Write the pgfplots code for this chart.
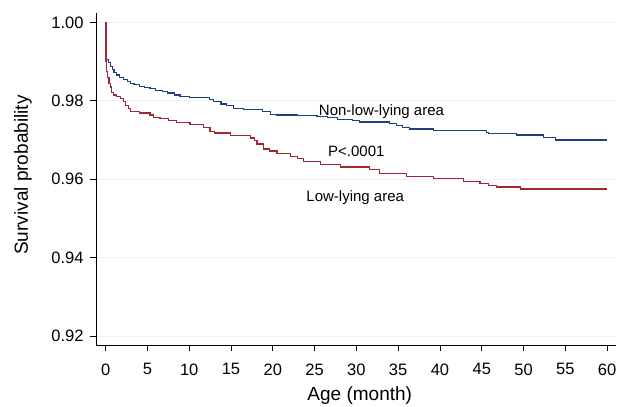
\documentclass[border=0pt]{standalone}
\usepackage{pgfplots}
\pgfplotsset{compat=1.18}
\usepackage{fontspec}
\setmainfont{Liberation Sans}

\definecolor{kmblue}{RGB}{32,64,122}
\definecolor{kmred}{RGB}{160,40,52}

\begin{document}
\begin{tikzpicture}
\begin{axis}[
    scale only axis,
    width=519.5pt, height=332pt,
    xmin=-1.15, xmax=61,
    ymin=0.9177, ymax=1.0024,
    axis x line*=bottom, axis y line*=left,
    axis line style={black, line width=0.9pt},
    xtick={0,5,...,60},
    ytick={0.92,0.94,0.96,0.98,1.00},
    yticklabel style={xshift=-3pt, /pgf/number format/.cd, fixed, fixed zerofill, precision=2},
    xticklabel style={yshift=-9pt},
    /pgf/number format/assume math mode=true,
    tick align=outside, major tick length=6pt,
    tick style={black, line width=0.9pt},
    ymajorgrids, grid style={black!6, line width=0.8pt},
    ticklabel style={font=\fontsize{16.5}{19}\selectfont},
    xlabel={Age (month)}, ylabel={Survival probability},
    label style={font=\fontsize{19}{22}\selectfont},
    xlabel style={at={(rel axis cs:0.5,0)}, anchor=center, yshift=-51pt, xshift=4pt},
    ylabel style={at={(rel axis cs:0,0.5)}, anchor=center, yshift=73pt, xshift=4pt},
]

% Non-low-lying area
\addplot[const plot, kmblue, line width=1.2pt] coordinates {
(0,1.000) (0.05,0.9925) (0.15,0.9905) (0.3,0.9897) (0.55,0.9888) (0.8,0.9880)
(1.0,0.9872) (1.35,0.9866) (1.7,0.9860) (2.1,0.9854) (2.6,0.9849) (3.0,0.9844)
(3.4,0.9841) (4.1,0.9836) (4.7,0.9833) (5.3,0.9831) (6.0,0.9827) (6.8,0.9823)
(7.4,0.9820) (8.2,0.9815) (8.9,0.9811) (10.0,0.9809) (11.3,0.9808) (12.4,0.9804)
(12.9,0.9798) (13.8,0.9792) (14.5,0.9787) (15.3,0.9781) (16.5,0.9778) (18.8,0.9773)
(19.7,0.9766) (20.5,0.9764) (22.9,0.9762) (25.3,0.9760) (26.5,0.9757) (27.7,0.9753)
(29.5,0.9750) (30.4,0.9746) (34.0,0.9743) (34.8,0.9736) (35.5,0.9732) (36.4,0.9728)
(39.2,0.9724) (45.6,0.9720) (45.8,0.9717) (49.2,0.9713) (52.4,0.9707) (53.8,0.9700)
(60,0.9700)
};

% Low-lying area
\addplot[const plot, kmred, line width=1.2pt] coordinates {
(0,1.000) (0.05,0.9900) (0.1,0.9875) (0.2,0.9860) (0.4,0.9845) (0.55,0.9835)
(0.75,0.9822) (0.95,0.9815) (1.3,0.9811) (1.75,0.9806) (2.1,0.9798) (2.4,0.9788)
(2.7,0.9780) (3.0,0.9773) (4.1,0.9769) (5.3,0.9764) (5.7,0.9757) (6.5,0.9754)
(7.5,0.9750) (8.5,0.9745) (10.1,0.9739) (11.7,0.9732) (12.5,0.9722) (13.0,0.9718)
(14.9,0.9711) (17.3,0.9705) (17.8,0.9698) (18.1,0.9690) (18.9,0.9677) (19.6,0.9672)
(20.5,0.9666) (22.1,0.9658) (23.0,0.9652) (23.7,0.9645) (25.7,0.9637) (28.1,0.9631)
(31.6,0.9624) (32.8,0.9614) (36.0,0.9607) (39.2,0.9601) (42.8,0.9594) (44.8,0.9590)
(45.8,0.9584) (46.8,0.9580) (49.6,0.9575) (60,0.9575)
};

\node[anchor=west, inner sep=0pt, font=\fontsize{15}{18}\selectfont] at (axis cs:25.5,0.9772) {Non-low-lying area};
\node[anchor=west, inner sep=0pt, font=\fontsize{15}{18}\selectfont] at (axis cs:26.6,0.9671) {P<.0001};
\node[anchor=west, inner sep=0pt, font=\fontsize{15}{18}\selectfont] at (axis cs:24.0,0.9554) {Low-lying area};

\coordinate (A) at (rel axis cs:0,0);
\coordinate (B) at (rel axis cs:1,1);
\end{axis}
\pgfresetboundingbox
\path ([shift={(-96pt,-61pt)}]A) rectangle ([shift={(1.5pt,13pt)}]B);
\end{tikzpicture}
\end{document}
